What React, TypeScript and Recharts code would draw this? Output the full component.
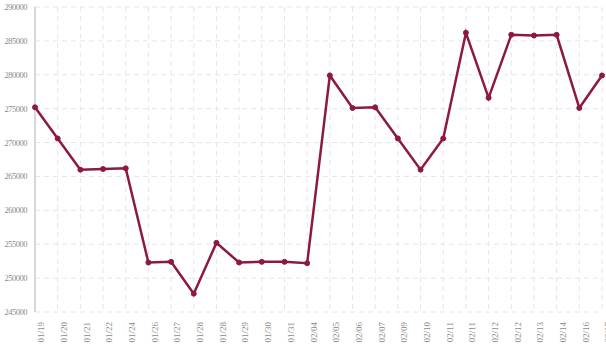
import React from "react";
import { LineChart, Line, XAxis, YAxis, CartesianGrid } from "recharts";

const dates = [
  "01/19", "01/20", "01/21", "01/22", "01/24", "01/26", "01/27", "01/28", "01/28",
  "01/29", "01/30", "01/31", "02/04", "02/05", "02/06", "02/07", "02/09", "02/10",
  "02/11", "02/11", "02/12", "02/12", "02/13", "02/14", "02/16", "02/17",
];

const prices = [
  275200, 270600, 266000, 266100, 266200, 252300, 252400, 247700, 255200,
  252300, 252400, 252400, 252200, 279900, 275100, 275200, 270600, 266000,
  270600, 286200, 276600, 285900, 285800, 285900, 275100, 279900,
];

const yTicks = [245000, 250000, 255000, 260000, 265000, 270000, 275000, 280000, 285000, 290000];

const data = dates.map((d, i) => ({ i, date: d, price: prices[i] }));

export default function App() {
  return (
    <div style={{ position: "absolute", left: 0, top: 0, background: "#fff" }}>
      <LineChart
        width={606}
        height={356}
        data={data}
        margin={{ top: 7, right: 4, left: 0, bottom: 0 }}
      >
        <CartesianGrid stroke="#e6e6e6" strokeDasharray="5 4" />
        <XAxis
          dataKey="i"
          type="category"
          tickFormatter={(v: number) => dates[v]}
          interval={0}
          axisLine={false}
          tickLine={false}
          height={44}
          angle={-90}
          textAnchor="end"
          dx={3}
          dy={2}
          tick={{ fontSize: 9, fill: "#8a8a8a", fontFamily: "Liberation Serif" }}
        />
        <YAxis
          domain={[245000, 290000]}
          ticks={yTicks}
          interval={0}
          width={35}
          axisLine={{ stroke: "#cccccc", strokeWidth: 1.5 }}
          tickLine={false}
          tick={{ fontSize: 8.5, fill: "#8a8a8a", fontFamily: "Liberation Serif", letterSpacing: -0.5 }}
          tickMargin={2}
        />
        <Line
          dataKey="price"
          stroke="#8b1a3e"
          strokeWidth={2.5}
          dot={{ r: 2.5, fill: "#8b1a3e", stroke: "#8b1a3e", strokeWidth: 1 }}
          isAnimationActive={false}
        />
      </LineChart>
    </div>
  );
}
